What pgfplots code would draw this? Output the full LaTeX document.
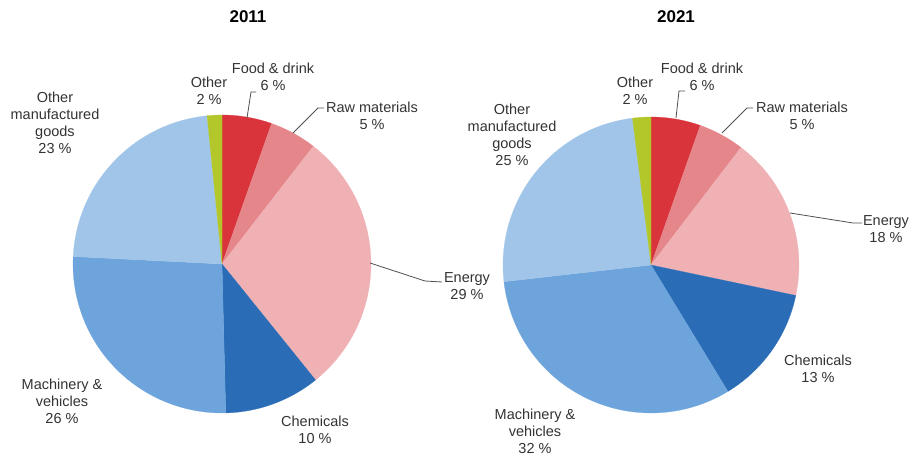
\documentclass[border=0pt]{standalone}
\usepackage{fontspec}
\setmainfont{Liberation Sans}
\usepackage{pgfplots}
\usepackage{pgfplotstable}
\pgfplotsset{compat=1.18}

\definecolor{col0}{HTML}{D9333B}
\definecolor{col1}{HTML}{E5868B}
\definecolor{col2}{HTML}{F0B1B5}
\definecolor{col3}{HTML}{2B6CB6}
\definecolor{col4}{HTML}{6EA4DC}
\definecolor{col5}{HTML}{A1C5E8}
\definecolor{col6}{HTML}{B4C72A}
\definecolor{txt}{HTML}{333333}
\definecolor{lead}{HTML}{505050}

\tikzset{lbl/.style={font=\fontsize{14.5}{17}\selectfont, text=txt, align=center, inner sep=0pt, anchor=center},
         ttl/.style={font=\fontsize{17}{20}\selectfont\bfseries, text=black, inner sep=0pt, anchor=center}}

% shares in percent, clockwise from 12 o'clock
\pgfplotstableread{
label value
Food 5.4
Raw 5.1
Energy 28.7
Chemicals 10.4
Machinery 26.2
OtherManuf 22.6
Other 1.6
}\dataA
\pgfplotstableread{
label value
Food 5.4
Raw 5.0
Energy 17.9
Chemicals 13.0
Machinery 31.9
OtherManuf 24.8
Other 2.0
}\dataB

\newcommand\drawpie[4]{%
  \pgfmathsetmacro\startang{90}%
  \pgfplotsforeachungrouped \i in {0,...,6}{%
    \pgfplotstablegetelem{\i}{value}\of#1%
    \pgfmathsetmacro\endang{\startang-3.6*\pgfplotsretval}%
    \edef\tmp{\noexpand\fill[col\i, draw=col\i, line width=0.2pt] (axis cs:#2,#3) -- ++(\startang:#4pt) arc[start angle=\startang, end angle=\endang, radius=#4pt] -- cycle;}%
    \tmp
    \global\let\startang\endang
  }%
}

\begin{document}
\begin{tikzpicture}
\begin{axis}[x=1pt, y=1pt, xmin=0, xmax=911, ymin=0, ymax=458,
  hide axis, clip=false]
\path (axis cs:0,0) rectangle (axis cs:911,458);

\drawpie{\dataA}{222}{194}{149}
\drawpie{\dataB}{651}{193}{148}

% leader lines
\draw[lead, line width=0.8pt] (axis cs:247,340) -- (axis cs:251,366) -- (axis cs:256,366);
\draw[lead, line width=0.8pt] (axis cs:293,325) -- (axis cs:318,350) -- (axis cs:324,350);
\draw[lead, line width=0.8pt] (axis cs:370,195) -- (axis cs:425,177) -- (axis cs:442,176);
\draw[lead, line width=0.8pt] (axis cs:676,340) -- (axis cs:679,367) -- (axis cs:685,367);
\draw[lead, line width=0.8pt] (axis cs:722,325) -- (axis cs:747,350) -- (axis cs:753,350);
\draw[lead, line width=0.8pt] (axis cs:790,245) -- (axis cs:853,235) -- (axis cs:862,235);

% titles
\node[ttl] at (axis cs:248,441) {2011};
\node[ttl] at (axis cs:676,441) {2021};

% labels 2011
\node[lbl] at (axis cs:209,367) {Other\\2 \%};
\node[lbl] at (axis cs:273,381) {Food \& drink\\6 \%};
\node[lbl] at (axis cs:372,342.5) {Raw materials\\5 \%};
\node[lbl] at (axis cs:467,171.5) {Energy\\29 \%};
\node[lbl] at (axis cs:315,28.5) {Chemicals\\10 \%};
\node[lbl] at (axis cs:62,57) {Machinery \&\\vehicles\\26 \%};
\node[lbl] at (axis cs:55,335) {Other\\manufactured\\goods\\23 \%};

% labels 2021
\node[lbl] at (axis cs:635,367) {Other\\2 \%};
\node[lbl] at (axis cs:702,381) {Food \& drink\\6 \%};
\node[lbl] at (axis cs:802,342.5) {Raw materials\\5 \%};
\node[lbl] at (axis cs:886,228.5) {Energy\\18 \%};
\node[lbl] at (axis cs:818,89.5) {Chemicals\\13 \%};
\node[lbl] at (axis cs:535,26.5) {Machinery \&\\vehicles\\32 \%};
\node[lbl] at (axis cs:512,323.5) {Other\\manufactured\\goods\\25 \%};
\end{axis}
\end{tikzpicture}
\end{document}
